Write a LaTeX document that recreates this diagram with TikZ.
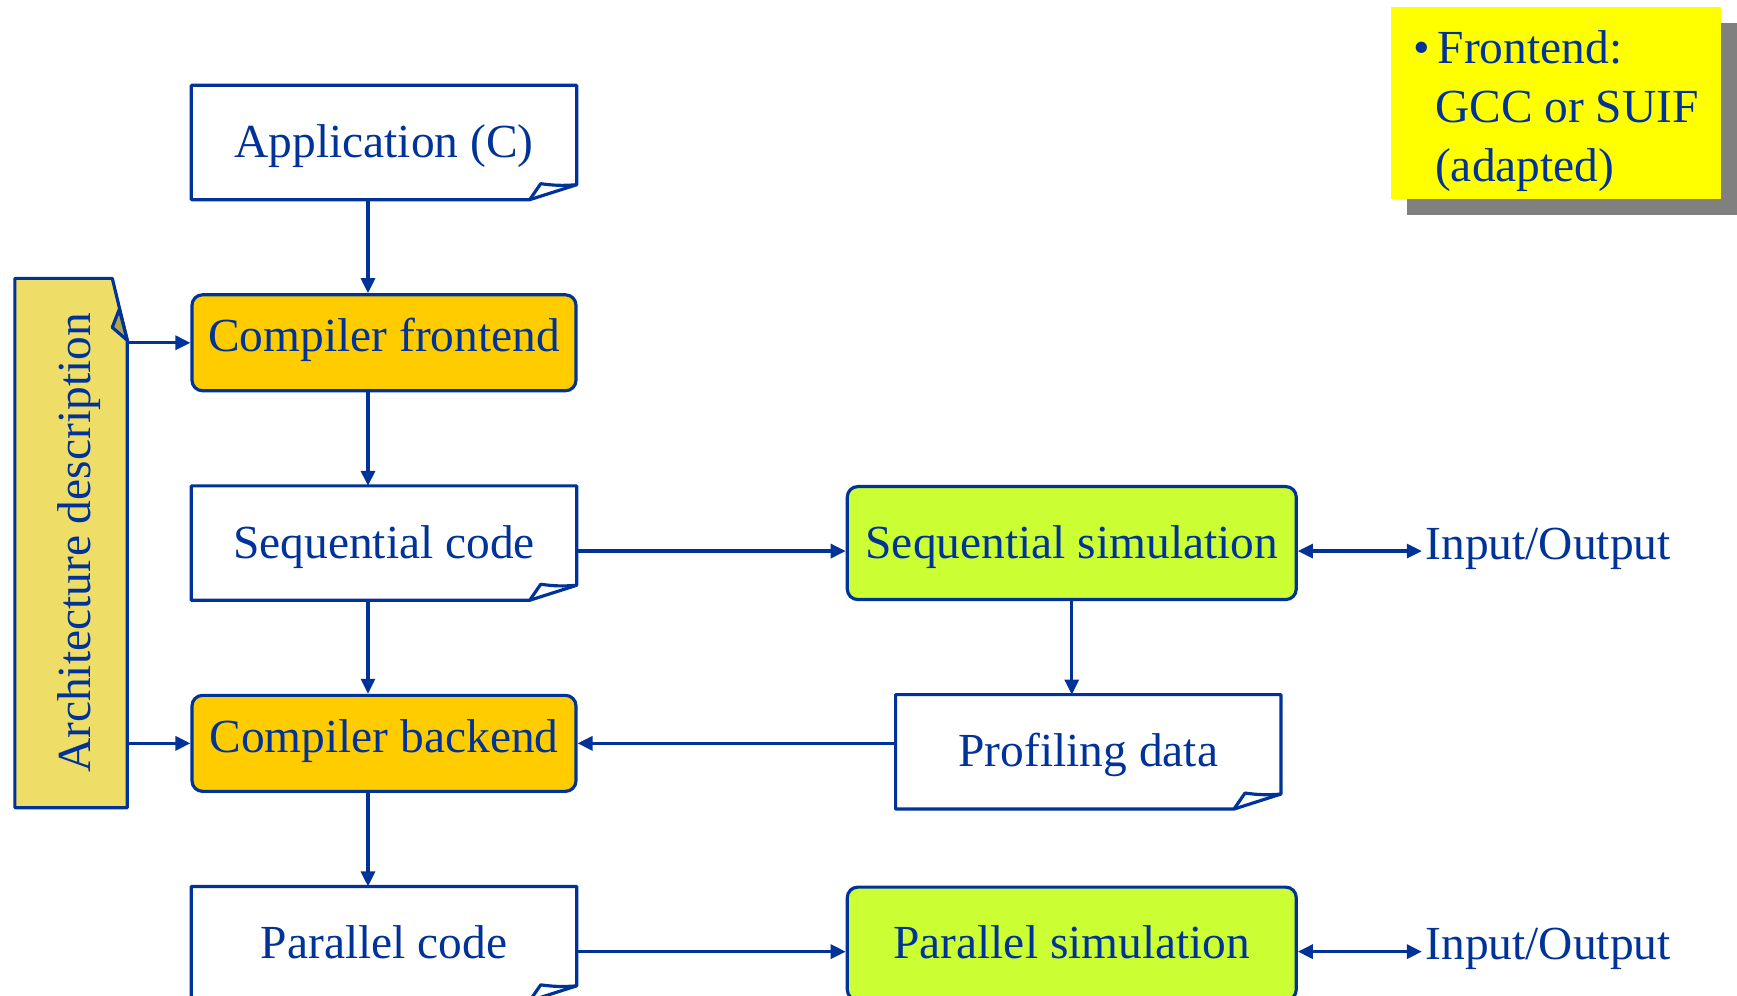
\documentclass[tikz,border=0pt]{standalone}
\usepackage{fontspec}
\setmainfont{Liberation Serif}
\usetikzlibrary{
  arrows.meta,
  positioning,
  backgrounds,
  shadows,
}
\definecolor{navy}{RGB}{0,51,153}
\definecolor{compfill}{RGB}{255,204,0}
\definecolor{simfill}{RGB}{204,255,51}
\definecolor{archfill}{RGB}{238,221,102}
\definecolor{notefill}{RGB}{255,255,0}
\tikzset{
  doc/.style={
    rectangle,
    minimum width=3.84cm,
    minimum height=1.13cm,
    text height=11.6pt,
    text depth=3pt,
    text centered,
  },
  comp/.style={
    rectangle,
    rounded corners=3pt,
    minimum width=3.84cm,
    minimum height=0.96cm,
    text height=9.3pt,
    text depth=4.3pt,
    text centered,
    draw=navy,
    line width=0.9pt,
    fill=compfill
  },
  sim/.style={
    rectangle,
    rounded corners=3pt,
    minimum width=4.49cm,
    minimum height=1.13cm,
    text height=11.6pt,
    text depth=3pt,
    text centered,
    draw=navy,
    line width=0.9pt,
    fill=simfill
  },
  archdoc/.style={
    rectangle,
    minimum width=1.11cm,
    minimum height=5.28cm,
    text centered,
  },
  io/.style={
    rectangle,
    inner sep=0.03cm,
    text height=12.1pt,
    text depth=3pt,
  },
  note/.style={
    rectangle,
    fill=notefill,
    minimum width=3.30cm,
    minimum height=1.92cm,
    inner ysep=0pt,
    font=\fontsize{13.5}{16.8}\selectfont,
    drop shadow={shadow xshift=0.16cm, shadow yshift=-0.16cm,
      fill=black!50, opacity=1},
  },
  frame/.style={
    draw=navy,
    line width=0.9pt,
    line join=round,
  },
  arrow/.style={
    navy,
    line width=0.9pt,
    -{Triangle[length=0.15cm, width=0.14cm]},
  },
  dblarrow/.style={
    arrow,
    {Triangle[length=0.15cm, width=0.14cm]}-{Triangle[length=0.15cm, width=0.14cm]},
  },
}
% outline of a document node, folded corner at the bottom right
\newcommand{\docframe}[1]{%
  \draw[frame, fill=white] (#1.north west) -- (#1.north east)
    -- ([yshift=0.15cm]#1.south east) -- ([xshift=-0.47cm]#1.south east)
    -- (#1.south west) -- cycle;
  \draw[frame] ([yshift=0.15cm]#1.south east)
    to[bend left=6] ([xshift=-0.36cm, yshift=0.16cm]#1.south east)
    -- ([xshift=-0.47cm]#1.south east);
}

\begin{document}
\begin{tikzpicture}[
    node distance=0.935cm and 2.69cm,
    font=\fontsize{13.5}{16}\selectfont,
    text=navy,
  ]
  \useasboundingbox (0,0) rectangle (17.37,-9.96);

  % Compiler flow
  \node (app) [doc] at (3.84,-1.425) {Application (C)};
  \node (front) [comp, below=of app] {Compiler frontend};
  \node (seq) [doc, below=of front] {Sequential code};
  \node (back) [comp, below=of seq] {Compiler backend};
  \node (par) [doc, below=of back] {Parallel code};

  % Simulation
  \node (seqsim) [sim, right=of seq] {Sequential simulation};
  \node (prof) [doc, below=of seqsim, xshift=0.165cm] {Profiling data};
  \node (parsim) [sim, right=of par] {Parallel simulation};
  \node (seqio) [io, right=1.24cm of seqsim] {Input/Output};
  \node (pario) [io, right=1.24cm of parsim] {Input/Output};

  % Architecture
  \node (arch) [archdoc, left=0.64cm of seq]
    {\rotatebox{90}{\raisebox{-0.08cm}[\height][\depth]{Architecture description}}};

  % Note
  \node (note) [note] at (15.56,-1.03)
    {\raisebox{-0.074cm}[\height][\depth]{\begin{tabular}{@{}l@{}}
       \textbullet\hspace{0.08cm}Frontend:\\
       \hspace*{0.22cm}GCC or SUIF\\
       \hspace*{0.22cm}(adapted)
     \end{tabular}}};

  % Frames
  \begin{scope}[on background layer]
    \docframe{app}
    \docframe{seq}
    \docframe{par}
    \docframe{prof}
    \draw[frame, fill=archfill] (arch.south west) -- (arch.north west)
      -- ([xshift=-0.15cm]arch.north east) -- ([yshift=-0.62cm]arch.north east)
      -- (arch.south east) -- cycle;
    \draw[frame, fill=archfill!75!black] ([yshift=-0.62cm]arch.north east)
      -- ([xshift=-0.08cm, yshift=-0.31cm]arch.north east)
      -- ([xshift=-0.15cm, yshift=-0.49cm]arch.north east) -- cycle;
  \end{scope}

  % Arrows
  \draw [arrow] ([xshift=-0.16cm]app.south) -- ([xshift=-0.16cm]front.north);
  \draw [arrow] ([xshift=-0.16cm]front.south) -- ([xshift=-0.16cm]seq.north);
  \draw [arrow] ([xshift=-0.16cm]seq.south) -- ([xshift=-0.16cm]back.north);
  \draw [arrow] ([xshift=-0.16cm]back.south) -- ([xshift=-0.16cm]par.north);

  \draw [arrow] (arch.east |- front.west) -- (front.west);
  \draw [arrow] (arch.east |- back.west) -- (back.west);

  \draw [arrow] ([yshift=-0.08cm]seq.east) -- ([yshift=-0.08cm]seqsim.west);
  \draw [arrow] ([yshift=-0.08cm]par.east) -- ([yshift=-0.08cm]parsim.west);
  \draw [arrow] (seqsim.south) -- (prof.north -| seqsim.south);
  \draw [arrow] (prof.west |- back.east) -- (back.east);

  \draw [dblarrow] ([yshift=-0.08cm]seqsim.east) -- ([yshift=-0.08cm]seqio.west);
  \draw [dblarrow] ([yshift=-0.08cm]parsim.east) -- ([yshift=-0.08cm]pario.west);

\end{tikzpicture}
\end{document}
